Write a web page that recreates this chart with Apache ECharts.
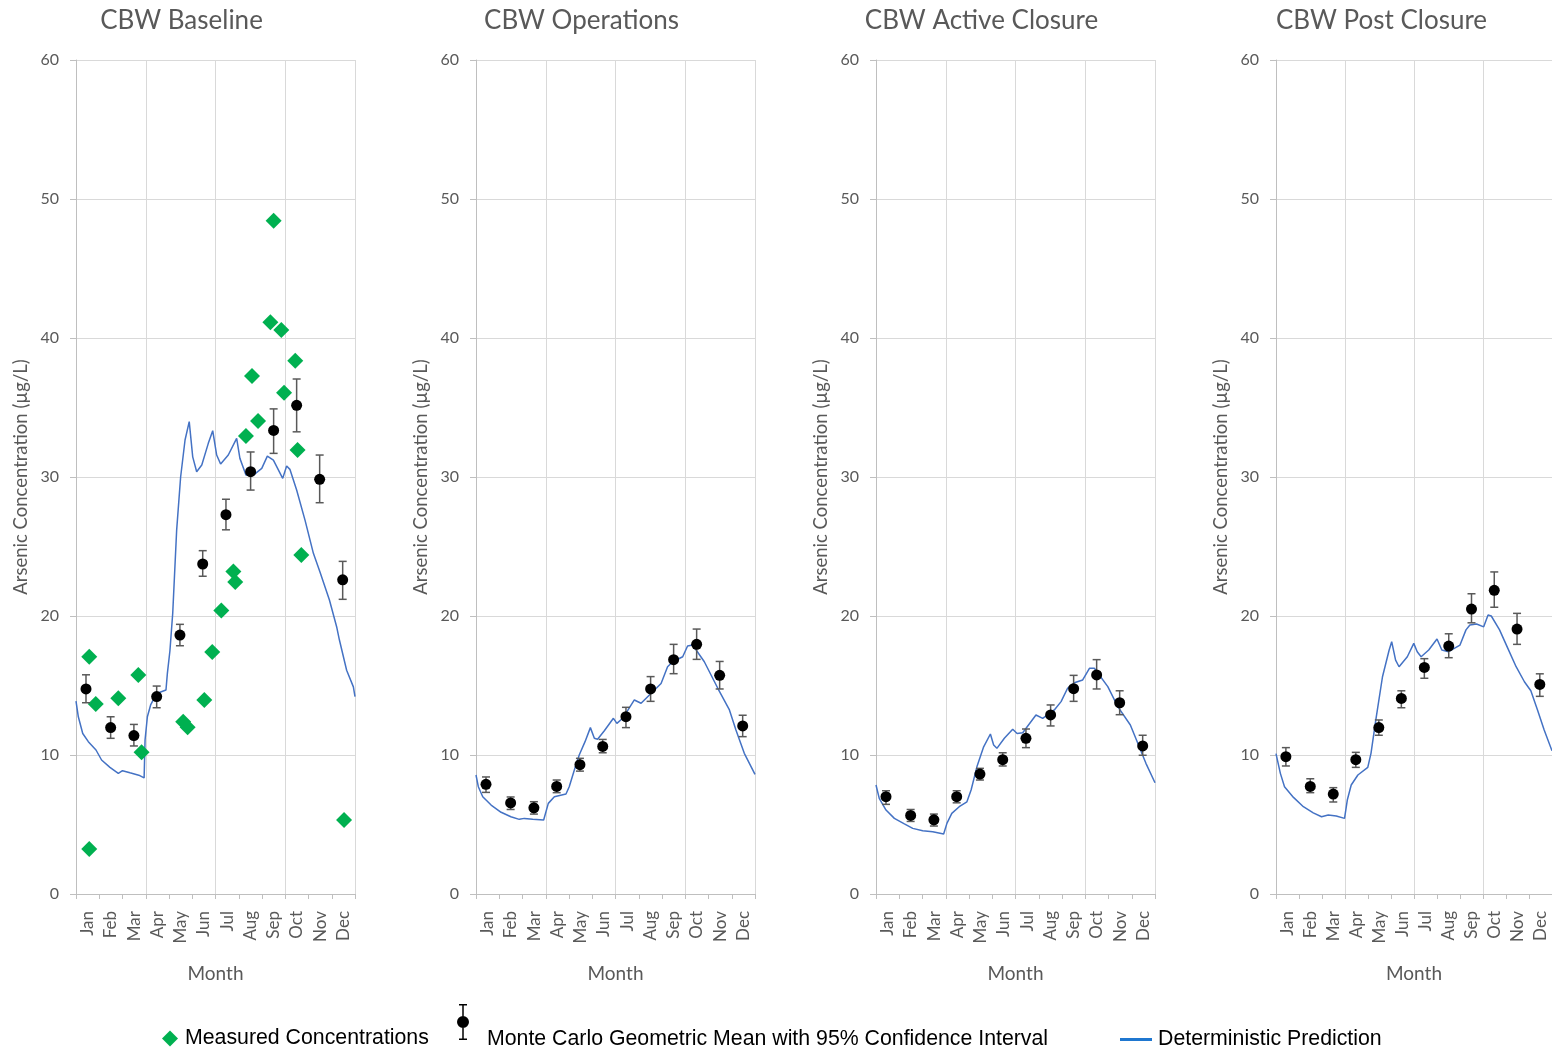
<!DOCTYPE html>
<html>
<head>
<meta charset="utf-8">
<title>CBW Arsenic Concentration</title>
<script src="https://cdn.jsdelivr.net/npm/echarts@6/dist/echarts.min.js"></script>
<style>
  html, body { margin: 0; padding: 0; background: #ffffff; }
  #chart { width: 1552px; height: 1050px; }
</style>
</head>
<body>
<div id="chart"></div>
<script>
// ---- data ----
const months = ['Jan', 'Feb', 'Mar', 'Apr', 'May', 'Jun', 'Jul', 'Aug', 'Sep', 'Oct', 'Nov', 'Dec'];
const panelTitles = ['CBW Baseline', 'CBW Operations', 'CBW Active Closure', 'CBW Post Closure'];
const yTicks = [0, 10, 20, 30, 40, 50, 60];

// measured concentrations (baseline only): position in months from 1 Jan, and µg/L
const measuredMonth = [0.57, 0.85, 0.57, 1.82, 2.68, 2.82, 4.61, 4.8, 5.52, 5.86, 6.25, 6.77,
  6.85, 7.31, 7.57, 7.83, 8.36, 8.5, 8.83, 8.95, 9.43, 9.53, 9.69, 11.53];
const measuredConc = [17.07, 13.67, 3.24, 14.08, 15.76, 10.19, 12.4, 11.99, 13.96, 17.41, 20.4, 23.2,
  22.44, 32.95, 37.27, 34.03, 41.13, 48.44, 40.58, 36.07, 38.37, 31.94, 24.39, 5.32];

// Monte Carlo geometric mean with 95% confidence interval, one value per month
const mcMonth = [0.43, 1.49, 2.49, 3.47, 4.47, 5.45, 6.45, 7.51, 8.5, 9.49, 10.48, 11.47];

const baselineMean = [14.75, 11.97, 11.4, 14.2, 18.63, 23.74, 27.29, 30.38, 33.35, 35.16, 29.83, 22.6];
const baselineLow  = [13.76, 11.2, 10.65, 13.4, 17.86, 22.86, 26.2, 29.06, 31.7, 33.25, 28.15, 21.2];
const baselineHigh = [15.77, 12.75, 12.2, 14.96, 19.4, 24.7, 28.4, 31.8, 34.9, 37.05, 31.58, 23.93];

const operationsMean = [7.89, 6.55, 6.2, 7.74, 9.3, 10.62, 12.76, 14.75, 16.86, 17.96, 15.73, 12.09];
const operationsLow  = [7.31, 6.08, 5.75, 7.29, 8.84, 10.16, 11.97, 13.86, 15.85, 16.88, 14.75, 11.32];
const operationsHigh = [8.42, 6.98, 6.64, 8.2, 9.76, 11.12, 13.43, 15.64, 17.96, 19.06, 16.73, 12.86];

const activeMean = [7.0, 5.65, 5.34, 7.0, 8.63, 9.66, 11.2, 12.88, 14.77, 15.76, 13.76, 10.65];
const activeLow  = [6.45, 5.22, 4.89, 6.56, 8.2, 9.21, 10.53, 12.09, 13.86, 14.75, 12.9, 9.98];
const activeHigh = [7.43, 6.08, 5.75, 7.43, 9.04, 10.16, 11.87, 13.6, 15.73, 16.86, 14.62, 11.42];

const postMean = [9.88, 7.74, 7.19, 9.66, 11.97, 14.07, 16.3, 17.84, 20.5, 21.85, 19.06, 15.08];
const postLow  = [9.21, 7.29, 6.62, 9.11, 11.42, 13.4, 15.52, 17.0, 19.51, 20.63, 17.96, 14.22];
const postHigh = [10.53, 8.29, 7.65, 10.19, 12.52, 14.62, 16.93, 18.72, 21.6, 23.17, 20.19, 15.84];

// deterministic prediction: [month position, µg/L]
const baselinePrediction = [[0, 13.88], [0.1, 12.75], [0.29, 11.55], [0.53, 10.96], [0.86, 10.36], [1.1, 9.64],
  [1.46, 9.11], [1.82, 8.68], [2.0, 8.87], [2.32, 8.72], [2.7, 8.55], [2.93, 8.35], [2.97, 11.08], [3.07, 12.75],
  [3.21, 13.6], [3.47, 14.43], [3.87, 14.68], [3.93, 15.87], [4.04, 17.5], [4.16, 20.2], [4.33, 26.2], [4.5, 30.0],
  [4.69, 32.66], [4.87, 33.98], [5.02, 31.45], [5.19, 30.38], [5.41, 30.86], [5.69, 32.42], [5.88, 33.33],
  [6.05, 31.58], [6.22, 30.94], [6.55, 31.58], [6.91, 32.78], [7.05, 31.34], [7.31, 30.14], [7.63, 30.14],
  [7.99, 30.62], [8.23, 31.5], [8.49, 31.22], [8.89, 29.9], [9.06, 30.79], [9.2, 30.55], [9.49, 29.06],
  [9.85, 26.9], [10.21, 24.51], [10.49, 23.19], [10.9, 21.15], [11.21, 19.23], [11.33, 18.27], [11.64, 16.1],
  [11.93, 14.9], [12, 14.2]];

const operationsPrediction = [[0, 8.56], [0.1, 7.72], [0.29, 7.0], [0.65, 6.4], [1.08, 5.88], [1.5, 5.56],
  [1.86, 5.37], [2.08, 5.44], [2.44, 5.37], [2.91, 5.32], [3.11, 6.52], [3.37, 7.0], [3.87, 7.19], [4.01, 7.72],
  [4.23, 8.92], [4.44, 10.0], [4.69, 10.96], [4.92, 11.97], [5.09, 11.2], [5.23, 11.13], [5.52, 11.74],
  [5.91, 12.64], [6.06, 12.28], [6.31, 12.64], [6.81, 13.96], [7.1, 13.72], [7.6, 14.55], [7.96, 15.15],
  [8.24, 16.35], [8.46, 16.71], [8.89, 17.07], [9.1, 17.84], [9.32, 17.91], [9.82, 16.71], [10.4, 14.8],
  [10.9, 13.24], [11.18, 11.8], [11.54, 10.12], [12, 8.6]];

const activePrediction = [[0, 7.84], [0.14, 6.88], [0.43, 6.04], [0.79, 5.44], [1.22, 5.04], [1.58, 4.72],
  [2.01, 4.55], [2.44, 4.48], [2.91, 4.32], [3.05, 5.08], [3.26, 5.8], [3.58, 6.28], [3.91, 6.63], [4.09, 7.48],
  [4.34, 9.15], [4.63, 10.59], [4.92, 11.51], [5.06, 10.72], [5.2, 10.48], [5.52, 11.2], [5.88, 11.85],
  [6.07, 11.55], [6.31, 11.6], [6.88, 12.88], [7.17, 12.64], [7.67, 13.24], [7.96, 13.84], [8.24, 14.8],
  [8.53, 15.2], [8.89, 15.4], [9.18, 16.24], [9.39, 16.24], [9.97, 14.92], [10.4, 13.48], [10.94, 12.16],
  [11.26, 10.84], [11.61, 9.4], [12, 8.0]];

const postPrediction = [[0, 10.1], [0.19, 8.68], [0.37, 7.72], [0.76, 6.95], [1.19, 6.28], [1.62, 5.84],
  [1.98, 5.56], [2.27, 5.68], [2.62, 5.61], [2.98, 5.44], [3.1, 6.76], [3.27, 7.84], [3.56, 8.56], [3.99, 9.11],
  [4.13, 10.12], [4.34, 12.52], [4.63, 15.63], [4.92, 17.55], [5.03, 18.15], [5.2, 16.83], [5.35, 16.35],
  [5.71, 17.07], [5.99, 18.03], [6.14, 17.43], [6.31, 17.07], [6.64, 17.55], [7.0, 18.35], [7.21, 17.55],
  [7.5, 17.43], [8.0, 17.91], [8.26, 19.0], [8.43, 19.35], [8.72, 19.42], [9.03, 19.22], [9.22, 20.07],
  [9.36, 20.0], [9.72, 19.0], [10.08, 17.67], [10.44, 16.35], [10.8, 15.27], [11.08, 14.62], [11.37, 13.24],
  [11.66, 11.8], [12, 10.3]];

// ---- chart setup ----
const MEASURED = 'Measured Concentrations';
const MONTE = 'Monte Carlo Geometric Mean with 95% Confidence Interval';
const DETERMINISTIC = 'Deterministic Prediction';

const panels = [
  { mean: baselineMean, low: baselineLow, high: baselineHigh, line: baselinePrediction },
  { mean: operationsMean, low: operationsLow, high: operationsHigh, line: operationsPrediction },
  { mean: activeMean, low: activeLow, high: activeHigh, line: activePrediction },
  { mean: postMean, low: postLow, high: postHigh, line: postPrediction }
];

const FONT = 'Lato';
const TEXT_GRAY = '#595959';
const AXIS_GRAY = '#BFBFBF';
const GRID_GRAY = '#D9D9D9';
const PLOT_LEFT = 76, PLOT_STEP = 400, PLOT_WIDTH = 279, PLOT_TOP = 60, PLOT_HEIGHT = 834;

const grids = [], xAxes = [], yAxes = [], titles = [], series = [];

panels.forEach(function (p, i) {
  const left = PLOT_LEFT + PLOT_STEP * i;
  grids.push({ left: left, top: PLOT_TOP, width: PLOT_WIDTH, height: PLOT_HEIGHT, containLabel: false });

  titles.push({
    text: panelTitles[i],
    left: left + PLOT_WIDTH / 2 - 34,
    top: 8,
    padding: 0,
    textAlign: 'center',
    textStyle: { fontFamily: FONT, fontSize: 26, fontWeight: 'normal', color: TEXT_GRAY }
  });

  // continuous month axis: gridlines every quarter, ticks every month
  xAxes.push({
    type: 'value', gridIndex: i, position: 'bottom',
    min: 0, max: 12, interval: 3,
    axisLine: { show: true, lineStyle: { color: AXIS_GRAY, width: 1 } },
    axisTick: { show: true, length: 5, lineStyle: { color: AXIS_GRAY } },
    minorTick: { show: true, splitNumber: 3, length: 5, lineStyle: { color: AXIS_GRAY } },
    splitLine: { show: true, lineStyle: { color: GRID_GRAY, width: 1 } },
    axisLabel: { show: false },
    name: 'Month', nameLocation: 'middle', nameGap: 70,
    nameTextStyle: { fontFamily: FONT, fontSize: 19, color: TEXT_GRAY }
  });
  // month names centred in each month band
  xAxes.push({
    type: 'category', gridIndex: i, position: 'bottom',
    data: months, boundaryGap: true,
    axisLine: { show: false }, axisTick: { show: false }, splitLine: { show: false },
    axisLabel: { rotate: 90, margin: 17, interval: 0, fontFamily: FONT, fontSize: 17, color: TEXT_GRAY }
  });

  yAxes.push({
    type: 'value', gridIndex: i,
    min: yTicks[0], max: yTicks[yTicks.length - 1], interval: 10,
    axisLine: { show: true, lineStyle: { color: AXIS_GRAY, width: 1 } },
    axisTick: { show: true, length: 6, lineStyle: { color: AXIS_GRAY } },
    splitLine: { show: true, lineStyle: { color: GRID_GRAY, width: 1 } },
    axisLabel: { margin: 17, fontFamily: FONT, fontSize: 16, color: TEXT_GRAY },
    name: 'Arsenic Concentration (µg/L)', nameLocation: 'middle', nameGap: 45,
    nameTextStyle: { fontFamily: FONT, fontSize: 18.5, color: TEXT_GRAY }
  });

  series.push({
    name: DETERMINISTIC, type: 'line',
    xAxisIndex: 2 * i, yAxisIndex: i,
    data: p.line, showSymbol: false, symbol: 'none', smooth: false,
    lineStyle: { color: '#4472C4', width: 1.5 }, itemStyle: { color: '#4472C4' },
    z: 2
  });

  if (i === 0) {
    series.push({
      name: MEASURED, type: 'scatter',
      xAxisIndex: 0, yAxisIndex: 0,
      data: measuredMonth.map(function (m, k) { return [m, measuredConc[k]]; }),
      symbol: 'diamond', symbolSize: 16,
      itemStyle: { color: '#00B050', opacity: 1 },
      z: 3
    });
  }

  series.push({
    name: MONTE + ' CI', type: 'custom',
    xAxisIndex: 2 * i, yAxisIndex: i,
    data: mcMonth.map(function (m, k) { return [m, p.low[k], p.high[k]]; }),
    encode: { x: 0, y: [1, 2] },
    renderItem: function (params, api) {
      const x = api.value(0);
      const lo = api.coord([x, api.value(1)]);
      const hi = api.coord([x, api.value(2)]);
      const cap = 4;
      const st = { stroke: '#595959', lineWidth: 1.5 };
      return {
        type: 'group',
        children: [
          { type: 'line', shape: { x1: lo[0], y1: lo[1], x2: hi[0], y2: hi[1] }, style: st },
          { type: 'line', shape: { x1: lo[0] - cap, y1: lo[1], x2: lo[0] + cap, y2: lo[1] }, style: st },
          { type: 'line', shape: { x1: hi[0] - cap, y1: hi[1], x2: hi[0] + cap, y2: hi[1] }, style: st }
        ]
      };
    },
    z: 4
  });

  series.push({
    name: MONTE, type: 'scatter',
    xAxisIndex: 2 * i, yAxisIndex: i,
    data: mcMonth.map(function (m, k) { return [m, p.mean[k]]; }),
    symbol: 'circle', symbolSize: 11,
    itemStyle: { color: '#000000', opacity: 1 },
    z: 5
  });
});

const legendText = { fontFamily: 'Liberation Sans', fontSize: 21.3, color: '#000000' };
// error bar with dot on top; a tiny mark at the bottom sets the icon box so the label sits low
const errorBarIcon = 'path://M3,0H11V1.5H3Z M6.25,0H7.75V36H6.25Z M3,34.5H11V36H3Z ' +
  'M13,18A6,6 0 1,1 1,18A6,6 0 1,1 13,18Z M7,69.95H7.05V70H7Z';

const option = {
  animation: false,
  backgroundColor: '#ffffff',
  title: titles,
  grid: grids,
  xAxis: xAxes,
  yAxis: yAxes,
  legend: [
    {
      left: 162, top: 1028, padding: 0, itemWidth: 16, itemHeight: 16, itemGap: 0,
      selectedMode: false,
      data: [{ name: MEASURED, icon: 'diamond' }],
      textStyle: Object.assign({ padding: [0, 0, 0, 2] }, legendText)
    },
    {
      left: 457, top: 1004, padding: 0, itemWidth: 12, itemHeight: 70, itemGap: 0,
      selectedMode: false,
      data: [{ name: MONTE, icon: errorBarIcon }],
      textStyle: Object.assign({ padding: [0, 0, 0, 13] }, legendText)
    },
    {
      left: 1120, top: 1029, padding: 0, itemWidth: 32, itemHeight: 3, itemGap: 0,
      selectedMode: false,
      data: [{ name: DETERMINISTIC, icon: 'rect', itemStyle: { color: '#1F77D0' } }],
      textStyle: Object.assign({ padding: [0, 0, 0, 1] }, legendText)
    }
  ],
  series: series
};

const chart = echarts.init(document.getElementById('chart'), null, { renderer: 'canvas' });
chart.setOption(option);
</script>
</body>
</html>
